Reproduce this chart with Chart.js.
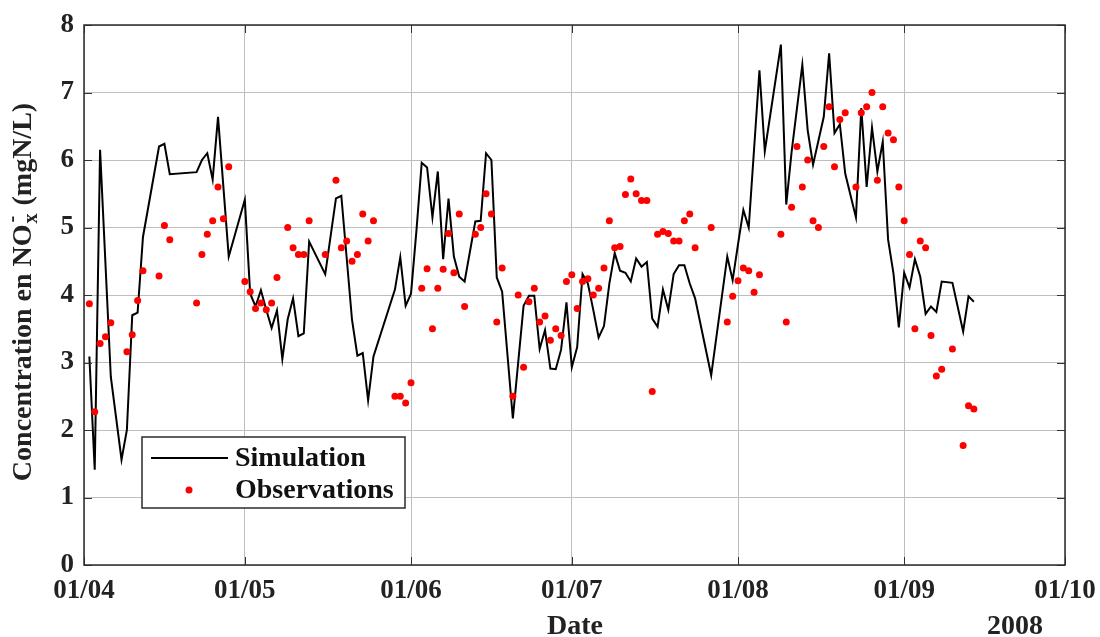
<!DOCTYPE html>
<html>
<head>
<meta charset="utf-8">
<script src="https://cdn.jsdelivr.net/npm/chart.js@4.4.1/dist/chart.umd.min.js"></script>
<style>
  body { margin: 0; background: #fff; }
  canvas { display: block; }
</style>
</head>
<body>
<canvas id="myChart" width="1100" height="637"></canvas>
<script>
// days counted from 01/04/2008
var monthDays = [0, 30, 61, 91, 122, 153, 183];
var monthLabels = ['01/04', '01/05', '01/06', '01/07', '01/08', '01/09', '01/10'];
var yTicks = [0, 1, 2, 3, 4, 5, 6, 7, 8];

// Simulation
var simDays = [1, 2, 3, 5, 7, 8, 9, 10, 11, 14, 15, 16, 21, 22, 23, 24, 25, 27, 30,
  31, 32, 33, 34, 35, 36, 37, 38, 39, 40, 41, 42, 45, 47, 48, 50, 51, 52, 53, 54,
  58, 59, 60, 61, 62, 63, 64, 65, 66, 67, 68, 69, 70, 71, 73, 74, 75, 76, 77, 78,
  80, 82, 83, 84, 85, 86, 87, 88, 89, 90, 91, 92, 93, 94, 95, 96, 97, 98, 99, 100,
  101, 102, 103, 104, 105, 106, 107, 108, 109, 110, 111, 112, 113, 114, 117, 120,
  121, 122, 123, 124, 126, 127, 130, 131, 132, 134, 135, 136, 138, 139, 140, 141,
  142, 144, 145, 146, 147, 148, 149, 150, 151, 152, 153, 154, 155, 156, 157, 158,
  159, 160, 162, 164, 165, 166];
var simValues = [3.09, 1.41, 6.15, 2.79, 1.56, 2.0, 3.7, 3.74, 4.86, 6.2, 6.24, 5.79, 5.82, 6.0, 6.1, 5.71, 6.64, 4.57, 5.41,
  4.02, 3.83, 4.07, 3.78, 3.51, 3.77, 3.05, 3.64, 3.95, 3.39, 3.43, 4.79, 4.31, 5.43, 5.47, 3.63, 3.10, 3.14, 2.44, 3.09,
  4.08, 4.56, 3.84, 4.02, 4.94, 5.96, 5.89, 5.15, 5.83, 4.53, 5.43, 4.57, 4.27, 4.20, 5.09, 5.10, 6.10, 6.0, 4.26, 4.05,
  2.17, 3.84, 3.99, 3.99, 3.2, 3.48, 2.91, 2.90, 3.19, 3.89, 2.93, 3.23, 4.31, 4.17, 3.78, 3.37, 3.54, 4.17, 4.62, 4.36,
  4.33, 4.20, 4.54, 4.42, 4.49, 3.65, 3.53, 4.08, 3.78, 4.31, 4.44, 4.44, 4.17, 3.95, 2.81, 4.57,
  4.22, 4.75, 5.26, 5.0, 7.33, 6.13, 7.71, 5.34, 6.12, 7.41, 6.44, 5.93, 6.64, 7.58, 6.40, 6.53,
  5.80, 5.15, 6.77, 5.60, 6.48, 5.83, 6.27, 4.82, 4.32, 3.52, 4.33, 4.11, 4.53, 4.27, 3.72, 3.83,
  3.75, 4.20, 4.18, 3.46, 3.98, 3.90];

// Observations
var obsDays = [1, 2, 3, 4, 5, 8, 9, 10, 11, 14, 15, 16, 21, 22, 23, 24, 25, 26, 27, 30,
  31, 32, 33, 34, 35, 36, 38, 39, 40, 41, 42, 45, 47, 48, 49, 50, 51, 52, 53, 54,
  58, 59, 60, 61, 63, 64, 65, 66, 67, 68, 69, 70, 71, 73, 74, 75, 76, 77, 78,
  80, 81, 82, 83, 84, 85, 86, 87, 88, 89, 90, 91, 92, 93, 94, 95, 96, 97, 98, 99, 100,
  101, 102, 103, 104, 105, 106, 107, 108, 109, 110, 111, 112, 113, 114, 117, 120,
  121, 122, 123, 124, 125, 126, 130, 131, 132, 133, 134, 135, 136, 137, 138, 139, 140, 141,
  142, 144, 145, 146, 147, 148, 149, 150, 151, 152, 153, 154, 155, 156, 157, 158,
  159, 160, 162, 164, 165, 166];
var obsValues = [3.87, 2.27, 3.28, 3.38, 3.59, 3.16, 3.41, 3.92, 4.36, 4.28, 5.03, 4.82, 3.88, 4.60, 4.90, 5.10, 5.60, 5.13, 5.90, 4.20,
  4.05, 3.80, 3.88, 3.78, 3.88, 4.26, 5.0, 4.70, 4.60, 4.60, 5.10, 4.60, 5.70, 4.70, 4.80, 4.50, 4.60, 5.20, 4.80, 5.10,
  2.50, 2.50, 2.40, 2.70, 4.10, 4.39, 3.50, 4.10, 4.38, 4.91, 4.33, 5.20, 3.83, 4.90, 5.0, 5.50, 5.20, 3.60, 4.40,
  2.50, 4.0, 2.93, 3.90, 4.10, 3.60, 3.69, 3.33, 3.50, 3.40, 4.20, 4.30, 3.80, 4.20, 4.24, 4.0, 4.10, 4.40, 5.10, 4.70, 4.72,
  5.49, 5.72, 5.50, 5.40, 5.40, 2.57, 4.90, 4.94, 4.91, 4.80, 4.80, 5.10, 5.20, 4.70, 5.0, 3.60,
  3.98, 4.21, 4.40, 4.36, 4.04, 4.30, 4.90, 3.60, 5.30, 6.20, 5.60, 6.0, 5.10, 5.0, 6.20, 6.79, 5.90, 6.60,
  6.70, 5.60, 6.70, 6.79, 7.00, 5.70, 6.79, 6.40, 6.30, 5.60, 5.10, 4.60, 3.50, 4.80, 4.70, 3.40,
  2.80, 2.90, 3.20, 1.77, 2.36, 2.31];

var FONT = '"Liberation Serif", "Times New Roman", serif';

function toPoints(xs, ys) {
  return xs.map(function (x, i) { return { x: x, y: ys[i] }; });
}

// frame, inner tick marks, axis titles and legend box
var decorations = {
  id: 'decorations',
  afterDraw: function (chart) {
    var ctx = chart.ctx;
    var a = chart.chartArea;
    var xs = chart.scales.x, ys = chart.scales.y;
    ctx.save();

    // inner ticks
    ctx.strokeStyle = '#333';
    ctx.lineWidth = 1;
    ctx.beginPath();
    yTicks.forEach(function (v) {
      var py = Math.round(ys.getPixelForValue(v)) + 0.5;
      ctx.moveTo(a.left, py); ctx.lineTo(a.left + 8, py);
      ctx.moveTo(a.right, py); ctx.lineTo(a.right - 8, py);
    });
    monthDays.forEach(function (d) {
      var px = Math.round(xs.getPixelForValue(d)) + 0.5;
      ctx.moveTo(px, a.bottom); ctx.lineTo(px, a.bottom - 8);
      ctx.moveTo(px, a.top); ctx.lineTo(px, a.top + 8);
    });
    ctx.stroke();

    // frame
    ctx.strokeStyle = '#2b2b2b';
    ctx.lineWidth = 1.5;
    ctx.strokeRect(a.left, a.top, a.right - a.left, a.bottom - a.top);

    // x titles
    ctx.fillStyle = '#222';
    ctx.textAlign = 'center';
    ctx.textBaseline = 'middle';
    ctx.font = 'bold 28px ' + FONT;
    ctx.fillText('Date', 575, 627);
    ctx.fillText('2008', 1015, 627);

    // y title with NOx- sub/superscript
    ctx.translate(24, 292);
    ctx.rotate(-Math.PI / 2);
    var big = 'bold 28px ' + FONT, small = 'bold 20px ' + FONT;
    var p1 = 'Concentration en NO', p2 = ' (mgN/L)';
    ctx.font = big;
    var w1 = ctx.measureText(p1).width, w3 = ctx.measureText(p2).width;
    ctx.font = small;
    var w2 = Math.max(ctx.measureText('x').width, ctx.measureText('-').width) + 2;
    var x0 = -(w1 + w2 + w3) / 2;
    ctx.textAlign = 'left';
    ctx.font = big;
    ctx.fillText(p1, x0, 0);
    ctx.font = small;
    ctx.fillText('x', x0 + w1 + 1, 8);
    ctx.fillText('-', x0 + w1 + 2, -11);
    ctx.font = big;
    ctx.fillText(p2, x0 + w1 + w2, 0);
    ctx.setTransform(1, 0, 0, 1, 0, 0);

    // legend
    ctx.fillStyle = '#fff';
    ctx.fillRect(142, 437, 263, 71);
    ctx.strokeStyle = '#2b2b2b';
    ctx.lineWidth = 1.5;
    ctx.strokeRect(142, 437, 263, 71);
    ctx.strokeStyle = '#000';
    ctx.lineWidth = 2;
    ctx.beginPath();
    ctx.moveTo(151, 458); ctx.lineTo(228, 458);
    ctx.stroke();
    ctx.fillStyle = '#ff0000';
    ctx.beginPath();
    ctx.arc(189, 490, 3.5, 0, Math.PI * 2);
    ctx.fill();
    ctx.fillStyle = '#111';
    ctx.textAlign = 'left';
    ctx.textBaseline = 'middle';
    ctx.font = 'bold 28px ' + FONT;
    ctx.fillText('Simulation', 235, 459);
    ctx.fillText('Observations', 235, 491);
    ctx.restore();
  }
};

var ctx = document.getElementById('myChart').getContext('2d');

var chart = new Chart(ctx, {
  type: 'line',
  data: {
    datasets: [{
      label: 'Simulation',
      data: toPoints(simDays, simValues),
      borderColor: '#000',
      borderWidth: 2,
      pointRadius: 0,
      fill: false,
      tension: 0,
      order: 1
    }, {
      label: 'Observations',
      type: 'scatter',
      data: toPoints(obsDays, obsValues),
      showLine: false,
      backgroundColor: '#ff0000',
      borderColor: '#ff0000',
      pointRadius: 3.5,
      pointBorderWidth: 0,
      order: 0
    }]
  },
  options: {
    responsive: false,
    animation: false,
    devicePixelRatio: 1,
    layout: { padding: { top: 25, right: 35, left: 0, bottom: 0 } },
    plugins: {
      legend: { display: false },
      tooltip: { enabled: false }
    },
    scales: {
      x: {
        type: 'linear',
        min: 0,
        max: 183,
        afterBuildTicks: function (scale) {
          scale.ticks = monthDays.map(function (d) { return { value: d }; });
        },
        afterFit: function (scale) {
          scale.height = 72;
          scale.paddingLeft = 0;
          scale.paddingRight = 0;
        },
        ticks: {
          autoSkip: false,
          maxRotation: 0,
          padding: 10,
          color: '#222',
          font: { family: FONT, size: 27, weight: 'bold' },
          callback: function (v) { return monthLabels[monthDays.indexOf(v)]; }
        },
        grid: { color: '#bdbdbd', lineWidth: 1, drawTicks: false },
        border: { display: false }
      },
      y: {
        min: 0,
        max: 8,
        afterBuildTicks: function (scale) {
          scale.ticks = yTicks.map(function (v) { return { value: v }; });
        },
        afterFit: function (scale) {
          scale.width = 84;
          scale.paddingTop = 0;
          scale.paddingBottom = 0;
        },
        ticks: {
          padding: 10,
          color: '#222',
          font: { family: FONT, size: 27, weight: 'bold' }
        },
        grid: { color: '#bdbdbd', lineWidth: 1, drawTicks: false },
        border: { display: false }
      }
    }
  },
  plugins: [decorations]
});
</script>
</body>
</html>
